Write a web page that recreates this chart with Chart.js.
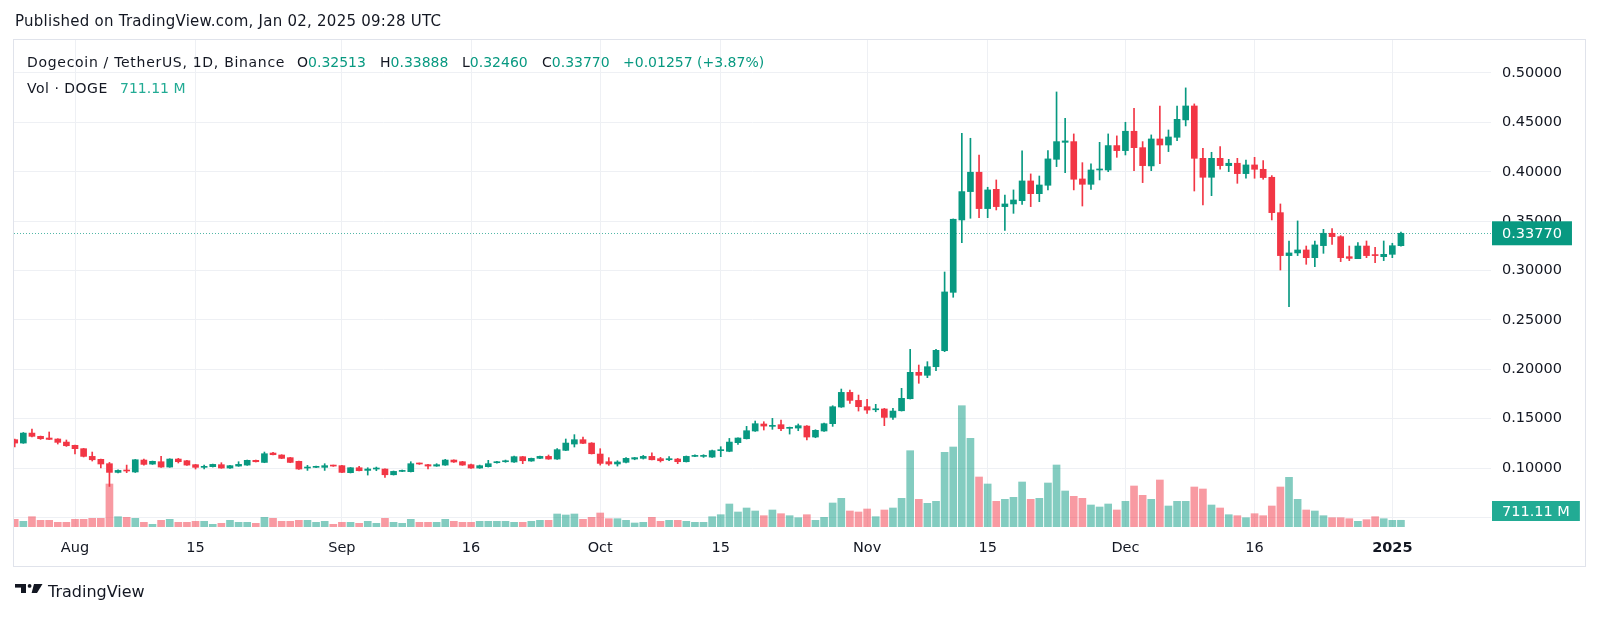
<!DOCTYPE html>
<html>
<head>
<meta charset="utf-8">
<script src="https://cdn.jsdelivr.net/npm/chart.js@4.4.1/dist/chart.umd.min.js"></script>
<style>
  body { margin:0; background:#fff; width:1600px; height:618px; overflow:hidden; position:relative;
         font-family:'DejaVu Sans', sans-serif; color:#131722; }
  #c { position:absolute; left:0; top:0; }
  .t { position:absolute; white-space:nowrap; }
  .g { color:#089981; }
  .gv { color:#22ab94; }
</style>
</head>
<body>
<canvas id="c" width="1600" height="618"></canvas>

<div class="t" style="left:15px; top:14px; font-size:15px; line-height:15px; letter-spacing:0.25px;">Published on TradingView.com, Jan 02, 2025 09:28 UTC</div>

<div class="t" style="left:27px; top:55px; font-size:14px; line-height:14px; letter-spacing:0.7px;">Dogecoin / TetherUS, 1D, Binance</div>
<div class="t" style="left:297px; top:55px; font-size:14px; line-height:14px;">O<span class="g" id="vO"></span></div>
<div class="t" style="left:380px; top:55px; font-size:14px; line-height:14px;">H<span class="g" id="vH"></span></div>
<div class="t" style="left:462px; top:55px; font-size:14px; line-height:14px;">L<span class="g" id="vL"></span></div>
<div class="t" style="left:542px; top:55px; font-size:14px; line-height:14px;">C<span class="g" id="vC"></span></div>
<div class="t g" style="left:623px; top:55px; font-size:14px; line-height:14px;" id="vChg"></div>
<div class="t" style="left:27px; top:81px; font-size:14px; line-height:14px; letter-spacing:0.5px;">Vol · DOGE</div>
<div class="t gv" style="left:120px; top:81px; font-size:14px; line-height:14px;" id="vVol"></div>

<svg class="t" style="left:15px; top:583px;" width="28" height="11" viewBox="0 0 28 11">
  <rect x="0" y="1" width="11" height="3.6" fill="#131722"/>
  <rect x="6" y="1" width="5" height="9" fill="#131722"/>
  <circle cx="14.6" cy="2.9" r="1.9" fill="#131722"/>
  <polygon points="19,1 27.5,1 22,10 16.6,10" fill="#131722"/>
</svg>
<div class="t" style="left:48px; top:584px; font-size:16px; line-height:16px;">TradingView</div>

<script>
// daily candles, index 0 = 2024-07-25 ... index 161 = 2025-01-02
const tickPos = [7, 21, 38, 53, 68, 82, 99, 113, 129, 144, 160];
const tickLabels = ['Aug', '15', 'Sep', '16', 'Oct', '15', 'Nov', '15', 'Dec', '16', '2025'];
const priceTicks = [0.05, 0.10, 0.15, 0.20, 0.25, 0.30, 0.35, 0.40, 0.45, 0.50];

const open = [
0.1287,0.1253,0.1354,0.1321,0.1304,0.1294,0.1263,0.1230,0.1196,0.1118,
0.1088,0.1044,0.0956,0.0980,0.0960,0.1081,0.1040,0.1064,0.1010,0.1091,
0.1074,0.1034,0.1007,0.1014,0.1034,0.1000,0.1020,0.1030,0.1078,0.1057,
0.1152,0.1132,0.1105,0.1068,0.1000,0.1007,0.1007,0.1027,0.1024,0.0953,
0.1003,0.0976,0.0990,0.0990,0.0932,0.0966,0.0963,0.1047,0.1034,0.1020,
0.1030,0.1081,0.1064,0.1034,0.1000,0.1014,0.1054,0.1064,0.1061,0.1115,
0.1071,0.1098,0.1118,0.1091,0.1179,0.1243,0.1287,0.1253,0.1142,0.1064,
0.1041,0.1058,0.1091,0.1098,0.1118,0.1095,0.1084,0.1091,0.1064,0.1118,
0.1118,0.1111,0.1176,0.1169,0.1257,0.1297,0.1375,0.1446,0.1422,0.1439,
0.1402,0.1405,0.1425,0.1314,0.1375,0.1449,0.1618,0.1766,0.1685,0.1621,
0.1590,0.1598,0.1513,0.1580,0.1702,0.1969,0.1939,0.2026,0.2188,0.2779,
0.3512,0.3799,0.3995,0.3627,0.3822,0.3647,0.3674,0.3707,0.3907,0.3778,
0.3863,0.4126,0.4298,0.4305,0.3927,0.3873,0.4018,0.4018,0.4265,0.4214,
0.4410,0.4244,0.4059,0.4332,0.4271,0.4349,0.4525,0.4666,0.4136,0.3944,
0.4136,0.4062,0.4086,0.3981,0.4069,0.4025,0.3944,0.3586,0.3151,0.3178,
0.3208,0.3130,0.3252,0.3377,0.3343,0.3140,0.3120,0.3248,0.3157,0.3140,
0.3164,0.32513
];
const high = [
0.1294,0.1360,0.1395,0.1324,0.1365,0.1297,0.1284,0.1233,0.1199,0.1162,
0.1091,0.1057,0.0983,0.1030,0.1087,0.1091,0.1071,0.1118,0.1094,0.1098,
0.1078,0.1037,0.1030,0.1040,0.1054,0.1027,0.1064,0.1081,0.1081,0.1162,
0.1159,0.1135,0.1108,0.1071,0.1027,0.1020,0.1044,0.1030,0.1027,0.1005,
0.1017,0.1003,0.1010,0.0993,0.0970,0.0980,0.1064,0.1051,0.1037,0.1044,
0.1088,0.1084,0.1068,0.1041,0.1030,0.1078,0.1068,0.1081,0.1122,0.1118,
0.1101,0.1122,0.1132,0.1196,0.1294,0.1338,0.1314,0.1257,0.1196,0.1105,
0.1074,0.1105,0.1108,0.1128,0.1155,0.1108,0.1115,0.1098,0.1122,0.1135,
0.1135,0.1182,0.1216,0.1300,0.1307,0.1422,0.1476,0.1469,0.1503,0.1486,
0.1415,0.1446,0.1429,0.1388,0.1456,0.1631,0.1800,0.1790,0.1739,0.1695,
0.1645,0.1604,0.1604,0.1807,0.2202,0.2043,0.2077,0.2202,0.2985,0.3522,
0.4389,0.4339,0.4170,0.3843,0.3917,0.3765,0.3816,0.4211,0.3978,0.3957,
0.4214,0.4808,0.4541,0.4383,0.4092,0.4079,0.4298,0.4383,0.4363,0.4501,
0.4643,0.4305,0.4373,0.4666,0.4423,0.4666,0.4849,0.4687,0.4238,0.4197,
0.4254,0.4126,0.4136,0.4119,0.4146,0.4113,0.3961,0.3674,0.3299,0.3502,
0.3248,0.3299,0.3417,0.3424,0.3353,0.3248,0.3282,0.3299,0.3235,0.3299,
0.3276,0.33888
];
const low = [
0.1213,0.1250,0.1314,0.1290,0.1287,0.1243,0.1219,0.1142,0.1112,0.1071,
0.1000,0.0814,0.0950,0.0953,0.0955,0.1030,0.1037,0.1007,0.1007,0.1051,
0.1027,0.0990,0.0990,0.1010,0.0997,0.0997,0.1017,0.1027,0.1061,0.1054,
0.1132,0.1095,0.1054,0.0987,0.0976,0.1003,0.0976,0.1017,0.0953,0.0950,
0.0970,0.0929,0.0973,0.0905,0.0929,0.0963,0.0960,0.1037,0.0990,0.1017,
0.1027,0.1058,0.1027,0.0997,0.0997,0.1010,0.1050,0.1058,0.1058,0.1044,
0.1068,0.1095,0.1088,0.1088,0.1176,0.1213,0.1247,0.1142,0.1030,0.1027,
0.1020,0.1051,0.1084,0.1091,0.1081,0.1061,0.1074,0.1044,0.1061,0.1115,
0.1108,0.1108,0.1115,0.1165,0.1240,0.1294,0.1371,0.1385,0.1392,0.1378,
0.1344,0.1378,0.1284,0.1307,0.1371,0.1422,0.1614,0.1655,0.1577,0.1553,
0.1570,0.1429,0.1493,0.1577,0.1699,0.1858,0.1915,0.1986,0.2178,0.2729,
0.3282,0.3529,0.3535,0.3535,0.3613,0.3407,0.3579,0.3670,0.3647,0.3697,
0.3816,0.4052,0.3991,0.3816,0.3653,0.3822,0.3917,0.4001,0.4146,0.4170,
0.4011,0.3890,0.4011,0.4082,0.4204,0.4315,0.4464,0.3805,0.3664,0.3758,
0.4025,0.4001,0.3883,0.3934,0.3934,0.3924,0.3512,0.3005,0.2634,0.3151,
0.3063,0.3039,0.3174,0.3265,0.3090,0.3100,0.3120,0.3130,0.3080,0.3100,
0.3130,0.32460
];
const close = [
0.1253,0.1354,0.1321,0.1297,0.1290,0.1260,0.1226,0.1196,0.1118,0.1084,
0.1041,0.0956,0.0976,0.0970,0.1084,0.1037,0.1068,0.1010,0.1091,0.1064,
0.1030,0.1007,0.1017,0.1037,0.1000,0.1024,0.1037,0.1078,0.1064,0.1145,
0.1135,0.1098,0.1057,0.0990,0.1010,0.1014,0.1024,0.1020,0.0956,0.1003,
0.0973,0.0990,0.0997,0.0932,0.0966,0.0973,0.1044,0.1041,0.1020,0.1034,
0.1081,0.1061,0.1030,0.1000,0.1024,0.1044,0.1064,0.1068,0.1115,0.1074,
0.1098,0.1118,0.1091,0.1186,0.1253,0.1287,0.1250,0.1145,0.1047,0.1041,
0.1061,0.1098,0.1105,0.1118,0.1084,0.1074,0.1095,0.1064,0.1118,0.1128,
0.1128,0.1176,0.1186,0.1263,0.1304,0.1378,0.1449,0.1425,0.1432,0.1398,
0.1412,0.1429,0.1314,0.1382,0.1449,0.1621,0.1766,0.1685,0.1621,0.1587,
0.1600,0.1513,0.1577,0.1706,0.1969,0.1939,0.2026,0.2192,0.2783,0.3519,
0.3799,0.3995,0.3627,0.3816,0.3647,0.3674,0.3714,0.3907,0.3778,0.3866,
0.4130,0.4305,0.4312,0.3924,0.3873,0.4018,0.4028,0.4265,0.4214,0.4410,
0.4244,0.4062,0.4332,0.4271,0.4352,0.4531,0.4666,0.4136,0.3944,0.4136,
0.4062,0.4086,0.3981,0.4069,0.4025,0.3941,0.3586,0.3151,0.3178,0.3208,
0.3130,0.3259,0.3377,0.3343,0.3130,0.3123,0.3248,0.3151,0.3151,0.3164,
0.32513,0.33770
];
// volume in millions of DOGE
const volume = [
816,604,1092,710,710,498,498,816,816,922,
922,4558,1092,1028,922,498,286,710,816,498,
498,604,604,286,392,710,498,498,392,1028,
922,604,604,710,710,498,604,286,498,498,
392,604,392,922,498,392,816,498,498,498,
816,604,498,498,604,604,604,604,498,498,
604,710,710,1378,1272,1378,816,1028,1484,880,
880,710,424,498,1028,604,710,710,604,498,
498,1092,1304,2438,1590,2014,1696,1198,1802,1410,
1198,986,1304,710,1028,2544,3042,1696,1590,1908,
1092,1802,2014,3042,8088,2936,2512,2724,7918,8480,
12858,9402,5300,4558,2724,2936,3148,4770,2936,3042,
4664,6572,3816,3254,3042,2332,2120,2438,1802,2724,
4346,3360,2936,4982,2226,2724,2724,4240,4028,2332,
2014,1304,1198,986,1410,1198,2226,4240,5268,2936,
1802,1696,1198,986,986,880,604,774,1092,880,
710,711.11
];

const UP = '#089981';
const DOWN = '#f23645';
const UP_VOL = 'rgba(8,153,129,0.5)';
const DOWN_VOL = 'rgba(242,54,69,0.5)';
const GRID = '#eef0f4';

Chart.defaults.font.family = "'DejaVu Sans', sans-serif";
Chart.defaults.color = '#131722';

const last = close.length - 1;
const idx = close.map((_, i) => i);
const isUp = close.map((c, i) => c >= open[i]);

// 圖例文字
document.getElementById('vO').textContent = open[last].toFixed(5);
document.getElementById('vH').textContent = high[last].toFixed(5);
document.getElementById('vL').textContent = low[last].toFixed(5);
document.getElementById('vC').textContent = close[last].toFixed(5);
const chg = close[last] - close[last - 1];
document.getElementById('vChg').textContent =
    '+' + chg.toFixed(5) + ' (+' + (chg / close[last - 1] * 100).toFixed(2) + '%)';
document.getElementById('vVol').textContent = volume[last].toFixed(2) + ' M';

// last price line + price scale labels + frame
const overlay = {
    id: 'overlay',
    beforeDatasetsDraw(chart) {
        const { ctx, chartArea: a, scales: { y } } = chart;
        const py = Math.round(y.getPixelForValue(close[last])) + 0.5;
        ctx.save();
        ctx.strokeStyle = 'rgba(8,153,129,0.7)';
        ctx.lineWidth = 1;
        ctx.setLineDash([1, 2]);
        ctx.beginPath();
        ctx.moveTo(a.left, py);
        ctx.lineTo(a.right, py);
        ctx.stroke();
        ctx.restore();
    },
    afterDraw(chart) {
        const { ctx, chartArea: a, scales: { x, y, yv } } = chart;
        ctx.save();
        ctx.strokeStyle = '#e0e3eb';
        ctx.lineWidth = 1;
        ctx.strokeRect(a.left - 0.5, a.top - 0.5, y.right - a.left + 1, x.bottom - a.top);

        ctx.font = "14.5px 'DejaVu Sans'";
        ctx.textBaseline = 'middle';
        const pTxt = close[last].toFixed(5);
        const pY = y.getPixelForValue(close[last]);
        ctx.fillStyle = UP;
        ctx.fillRect(a.right + 1, pY - 12, ctx.measureText(pTxt).width + 20, 24);
        ctx.fillStyle = '#fff';
        ctx.fillText(pTxt, a.right + 11, pY + 1);

        const vTxt = volume[last].toFixed(2) + ' M';
        const vY = Math.min(yv.getPixelForValue(volume[last]), a.bottom - 16);
        ctx.fillStyle = '#22ab94';
        ctx.fillRect(a.right + 1, vY - 10, ctx.measureText(vTxt).width + 20, 20);
        ctx.fillStyle = '#fff';
        ctx.fillText(vTxt, a.right + 11, vY + 1);
        ctx.restore();
    }
};

new Chart(document.getElementById('c'), {
    type: 'bar',
    data: {
        datasets: [
            {
                label: 'body',
                data: idx.map(i => ({ x: i, y: [open[i], close[i]] })),
                backgroundColor: isUp.map(u => u ? UP : DOWN),
                barThickness: 6, minBarLength: 1, grouped: false, order: 1, yAxisID: 'y'
            },
            {
                label: 'wick',
                data: idx.map(i => ({ x: i, y: [low[i], high[i]] })),
                backgroundColor: isUp.map(u => u ? UP : DOWN),
                barThickness: 1, grouped: false, order: 2, yAxisID: 'y'
            },
            {
                label: 'volume',
                data: idx.map(i => ({ x: i, y: volume[i] })),
                backgroundColor: isUp.map(u => u ? UP_VOL : DOWN_VOL),
                barThickness: 7, grouped: false, order: 3, yAxisID: 'yv'
            }
        ]
    },
    options: {
        responsive: false,
        devicePixelRatio: 1,
        animation: false,
        events: [],
        layout: { padding: { left: 14, top: 40, right: 15, bottom: 51 } },
        plugins: { legend: { display: false }, tooltip: { enabled: false } },
        scales: {
            x: {
                type: 'linear', min: -0.085, max: 171.46, offset: false,
                grid: { color: GRID, drawTicks: false, offset: false },
                border: { display: false },
                afterBuildTicks: s => { s.ticks = tickPos.map(v => ({ value: v })); },
                afterFit: s => { s.height = 40; },
                ticks: {
                    padding: 13, autoSkip: false, maxRotation: 0,
                    font: c => ({ size: 14.5, weight: (c.tick && c.tick.value === 160) ? 'bold' : 'normal' }),
                    callback: v => tickLabels[tickPos.indexOf(v)]
                }
            },
            y: {
                position: 'right', min: 0.0403, max: 0.5334,
                grid: { color: GRID, drawTicks: false },
                border: { display: false },
                afterBuildTicks: s => { s.ticks = priceTicks.map(v => ({ value: v })); },
                afterFit: s => { s.width = 94; },
                ticks: { padding: 11, font: { size: 14.5 }, callback: v => v < 0.07 ? '' : v.toFixed(5) }
            },
            yv: { display: false, min: 0, max: 51622 }
        }
    },
    plugins: [overlay]
});
</script>
</body>
</html>
